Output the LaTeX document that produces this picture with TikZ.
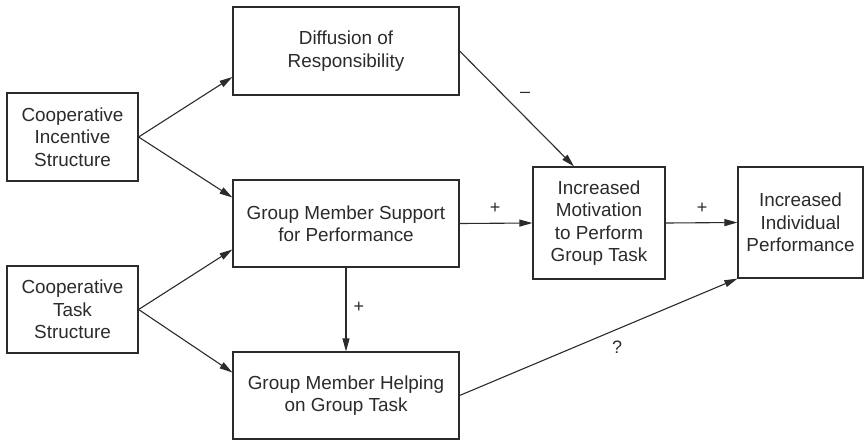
\documentclass[tikz,border=0pt]{standalone}
\usepackage{fontspec}
\setmainfont{Liberation Sans}
\usetikzlibrary{arrows.meta,calc}
\definecolor{ink}{HTML}{2B2B2B}
\begin{document}
\begin{tikzpicture}[x=1pt,y=-1pt,
  box/.style={draw=ink,line width=1.2pt,text=ink,align=center,inner sep=0pt,
    font=\fontsize{18.9}{22.5}\selectfont},
  conn/.style={draw=ink,line width=1.1pt,-{Triangle[length=13pt,width=7pt]}},
  lbl/.style={text=ink,inner sep=0pt,font=\fontsize{18}{20}\selectfont}]
\useasboundingbox (0,0) rectangle (867,440);
\node[box,minimum width=131pt,minimum height=88pt] (cis) at (72.5,137) {Cooperative\\Incentive\\Structure};
\node[box,minimum width=131pt,minimum height=87pt] (cts) at (72.5,309.5) {Cooperative\\Task\\Structure};
\node[box,minimum width=226pt,minimum height=88pt] (diff) at (346,51) {Diffusion of\\Responsibility};
\node[box,minimum width=226pt,minimum height=87pt] (sup) at (346,223.5) {Group Member Support\\for Performance};
\node[box,minimum width=226pt,minimum height=87pt] (help) at (346,395.5) {Group Member Helping\\on Group Task};
\node[box,minimum width=132pt,minimum height=112pt] (mot) at (599,223) {Increased\\Motivation\\to Perform\\Group Task};
\node[box,minimum width=125pt,minimum height=111pt] (perf) at (800.5,222.5) {Increased\\Individual\\Performance};

\draw[conn] (cis.east) -- ([yshift=-26pt]diff.west);
\draw[conn] (cis.east) -- ([yshift=26pt]sup.west);
\draw[conn] (cts.east) -- ([yshift=-26pt]sup.west);
\draw[conn] (cts.east) -- ([yshift=23pt]help.west);
\draw[conn] (diff.east) -- ([xshift=-25pt]mot.north);
\draw[conn] (sup.east) -- (mot.west);
\draw[conn] (mot.east) -- (perf.west);
\draw[conn] (sup.south) -- (help.north);
\draw[conn] (help.east) -- (perf.south west);

\node[lbl] (lminus) at (525,95) {–};
\node[lbl] (lplus1) at (495,208) {+};
\node[lbl] (lplus2) at (702,208) {+};
\node[lbl] (lplus3) at (359,307) {+};
\node[lbl] (lq) at (617,347) {?};
\end{tikzpicture}
\end{document}
